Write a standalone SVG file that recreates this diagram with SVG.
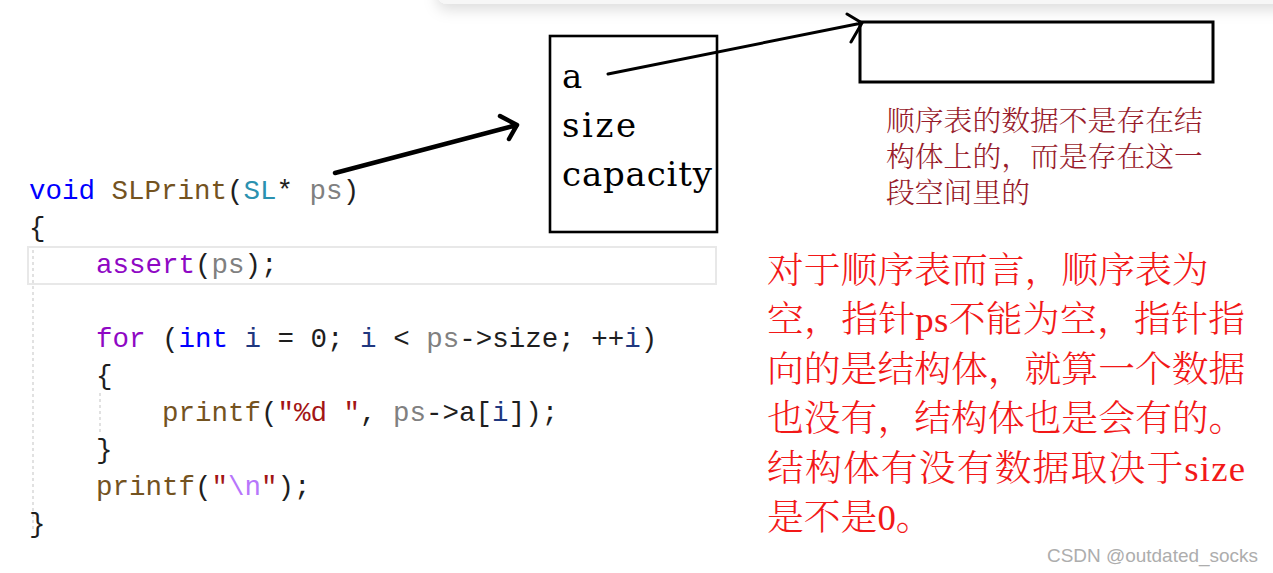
<svg xmlns="http://www.w3.org/2000/svg" width="1273" height="573" viewBox="0 0 1273 573">
<style>
.code{font-family:"Liberation Mono","DejaVu Sans Mono",monospace;font-size:27.5px;fill:#1e1e1e;white-space:pre}
.kw{fill:#0000ff}.fn{fill:#74531f}.ty{fill:#2b91af}.pm{fill:#808080}.mc{fill:#8f08c4}.lv{fill:#1f377f}.st{fill:#a31515}.es{fill:#b776fb}
.box{fill:none;stroke:#000}
.fld{font-family:"DejaVu Serif","Liberation Serif",serif;font-size:34px;fill:#000}
.note{font-family:"Liberation Serif","Noto Serif CJK SC","Noto Sans CJK SC",serif;font-size:28.8px;font-weight:300;fill:#981c2c}
.red{font-family:"Liberation Serif","Noto Serif CJK SC","Noto Sans CJK SC",serif;font-size:36.8px;font-weight:300;fill:#f21818}
.arr{fill:none;stroke:#000;stroke-linecap:round;stroke-linejoin:round}
.wm{font-family:"Liberation Sans",Arial,sans-serif;font-size:18.5px;fill:#adadad}
</style>
<defs>
<filter id="sh" x="-5%" y="-100%" width="110%" height="400%">
<feDropShadow dx="0" dy="6" stdDeviation="7" flood-color="#000" flood-opacity="0.13"/>
</filter>
</defs>
<rect width="1273" height="573" fill="#fff"/>
<rect x="437" y="-30" width="860" height="34" rx="10" fill="#f7f7f7" filter="url(#sh)"/>

<g id="code">
<rect x="28" y="247" width="688" height="37" fill="none" stroke="#e8e8e8" stroke-width="2"/>
<line x1="33" y1="250" x2="33" y2="530" stroke="#d8d8d8" stroke-width="1.5" stroke-dasharray="3,3"/>
<line x1="100" y1="393" x2="100" y2="432" stroke="#d8d8d8" stroke-width="1.5" stroke-dasharray="3,3"/>
<text class="code" x="29" y="199" xml:space="preserve"><tspan class="kw">void</tspan> <tspan class="fn">SLPrint</tspan>(<tspan class="ty">SL</tspan>* <tspan class="pm">ps</tspan>)</text>
<text class="code" x="29" y="236">{</text>
<text class="code" x="96" y="273" xml:space="preserve"><tspan class="mc">assert</tspan>(<tspan class="pm">ps</tspan>);</text>
<text class="code" x="96" y="347" xml:space="preserve"><tspan class="mc">for</tspan> (<tspan class="kw">int</tspan> <tspan class="lv">i</tspan> = 0; <tspan class="lv">i</tspan> &lt; <tspan class="pm">ps</tspan>-&gt;size; ++<tspan class="lv">i</tspan>)</text>
<text class="code" x="96" y="384">{</text>
<text class="code" x="162" y="421" xml:space="preserve"><tspan class="fn">printf</tspan>(<tspan class="st">"%d "</tspan>, <tspan class="pm">ps</tspan>-&gt;a[<tspan class="lv">i</tspan>]);</text>
<text class="code" x="96" y="458">}</text>
<text class="code" x="96" y="495" xml:space="preserve"><tspan class="fn">printf</tspan>(<tspan class="st">"</tspan><tspan class="es">\n</tspan><tspan class="st">"</tspan>);</text>
<text class="code" x="29" y="532">}</text>
</g>

<g id="struct">
<rect class="box" x="550" y="36" width="167" height="196" stroke-width="2.6"/>
<text class="fld" x="562" y="88">a</text>
<text class="fld" x="562" y="137" textLength="74" lengthAdjust="spacing">size</text>
<text class="fld" x="562" y="186" textLength="150" lengthAdjust="spacing">capacity</text>
</g>

<g id="data">
<rect class="box" x="860" y="22" width="353" height="60" stroke-width="3"/>
</g>

<g id="note">
<text class="note" x="886" y="131">顺序表的数据不是存在结</text>
<text class="note" x="886" y="167">构体上的，而是存在这一</text>
<text class="note" x="886" y="203">段空间里的</text>
</g>

<g id="explain">
<text class="red" x="767" y="283">对于顺序表而言，顺序表为</text>
<text class="red" x="767" y="332.4" textLength="478" lengthAdjust="spacing">空，指针ps不能为空，指针指</text>
<text class="red" x="767" y="381.8">向的是结构体，就算一个数据</text>
<text class="red" x="767" y="431.2">也没有，结构体也是会有的。</text>
<text class="red" x="767" y="480.6" textLength="478" lengthAdjust="spacing">结构体有没有数据取决于size</text>
<text class="red" x="767" y="530">是不是0。</text>
</g>

<g id="connectors">
<path class="arr" stroke-width="4.5" d="M335,173 L517,125 M500,116 L517,125 L509,139"/>
<path class="arr" stroke-width="3" d="M608,74 L862,23 M847,14 L862,23 L851,42"/>
</g>

<text class="wm" x="1047" y="562" textLength="211" lengthAdjust="spacingAndGlyphs">CSDN @outdated_socks</text>
</svg>
